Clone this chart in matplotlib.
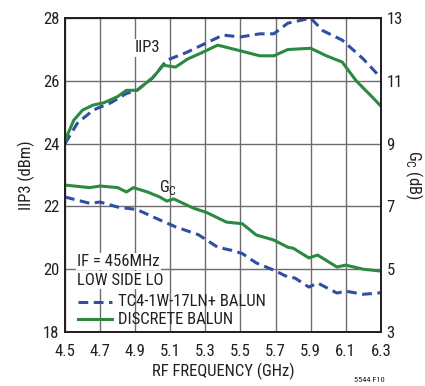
import matplotlib.pyplot as plt
import numpy as np

plt.rcParams['font.family'] = ['Roboto Condensed', 'DejaVu Sans']

# IIP3 (dBm), left axis
iip3_tc4_f = [4.50, 4.57, 4.66, 4.76, 4.85, 4.91, 5.00, 5.08, 5.19, 5.28, 5.40, 5.50, 5.61, 5.69, 5.77, 5.90, 5.97, 6.08, 6.20, 6.30]
iip3_tc4 = [24.0, 24.65, 25.07, 25.3, 25.6, 25.7, 26.1, 26.66, 26.9, 27.14, 27.46, 27.4, 27.5, 27.5, 27.84, 28.0, 27.6, 27.3, 26.7, 26.1]

iip3_disc_f = [4.50, 4.55, 4.60, 4.66, 4.72, 4.80, 4.85, 4.91, 5.00, 5.06, 5.13, 5.20, 5.28, 5.37, 5.47, 5.54, 5.61, 5.65, 5.69, 5.77, 5.90, 5.99, 6.08, 6.16, 6.24, 6.30]
iip3_disc = [24.1, 24.75, 25.07, 25.23, 25.3, 25.5, 25.7, 25.7, 26.1, 26.5, 26.44, 26.7, 26.9, 27.14, 27.0, 26.9, 26.8, 26.8, 26.8, 27.0, 27.04, 26.8, 26.6, 26.0, 25.55, 25.2]

# Conversion gain Gc (dB), right axis
gc_tc4_f = [4.50, 4.64, 4.70, 4.80, 4.91, 5.04, 5.13, 5.26, 5.37, 5.45, 5.51, 5.59, 5.69, 5.77, 5.81, 5.89, 5.94, 6.05, 6.10, 6.20, 6.30]
gc_tc4 = [7.3, 7.1, 7.14, 6.98, 6.9, 6.57, 6.35, 6.1, 5.7, 5.6, 5.5, 5.2, 4.97, 4.75, 4.72, 4.43, 4.56, 4.24, 4.3, 4.2, 4.25]

gc_disc_f = [4.50, 4.64, 4.70, 4.80, 4.85, 4.89, 4.97, 5.04, 5.08, 5.12, 5.23, 5.31, 5.42, 5.51, 5.59, 5.69, 5.77, 5.80, 5.89, 5.94, 6.05, 6.10, 6.20, 6.30]
gc_disc = [7.68, 7.6, 7.65, 7.6, 7.46, 7.6, 7.46, 7.3, 7.17, 7.24, 6.95, 6.8, 6.5, 6.45, 6.09, 5.93, 5.7, 5.67, 5.36, 5.45, 5.07, 5.13, 5.0, 4.94]

x_ticks = [4.5, 4.7, 4.9, 5.1, 5.3, 5.5, 5.7, 5.9, 6.1, 6.3]

blue = '#2f4fa3'
green = '#2a8a42'
txt = '#231f20'
fs = 12
dash = (0, (3.2, 1.8))

fig = plt.figure(figsize=(4.25, 3.86), dpi=100)
ax = fig.add_axes([0.153, 0.140, 0.743, 0.813])
ax2 = ax.twinx()

ax.plot(iip3_tc4_f, iip3_tc4, color=blue, lw=2.2, ls=dash)
ax.plot(iip3_disc_f, iip3_disc, color=green, lw=2.2)
ax2.plot(gc_tc4_f, gc_tc4, color=blue, lw=2.2, ls=dash)
ax2.plot(gc_disc_f, gc_disc, color=green, lw=2.2)

ax.set_xlim(4.5, 6.3)
ax.set_ylim(18, 28)
ax2.set_ylim(3, 13)
ax.set_xticks(x_ticks)
ax.set_xticklabels([f'{v:.1f}' for v in x_ticks])
ax.set_yticks(np.arange(18, 29, 2))
ax2.set_yticks(np.arange(3, 14, 2))

ax.grid(True, color='#6d6d6d', lw=1.0)
ax.set_axisbelow(True)
for a in (ax, ax2):
    a.tick_params(direction='in', length=0, labelsize=fs, labelcolor=txt, pad=4)
    for s in a.spines.values():
        s.set_color(txt)
        s.set_linewidth(1.3)
ax.tick_params(axis='x', pad=9)

ax.set_xlabel('RF FREQUENCY (GHz)', fontsize=fs, color=txt, labelpad=2)
ax.set_ylabel('IIP3 (dBm)', fontsize=fs, color=txt, labelpad=6)
ax2.set_ylabel('G$_\\mathregular{C}$ (dB)', fontsize=fs, color=txt, rotation=270, labelpad=16)

ax.text(4.97, 27.05, 'IIP3', fontsize=fs, color=txt, ha='center', va='center',
        bbox=dict(fc='white', ec='none', pad=1))
ax.text(5.09, 22.6, 'G$_\\mathregular{C}$', fontsize=fs, color=txt, ha='center', va='center')

ax.text(4.57, 20.25, 'IF = 456MHz', fontsize=fs, color=txt, va='center',
        bbox=dict(fc='white', ec='none', pad=1))
ax.text(4.57, 19.65, 'LOW SIDE LO', fontsize=fs, color=txt, va='center',
        bbox=dict(fc='white', ec='none', pad=1))
ax.plot([4.575, 4.77], [18.97, 18.97], color=blue, lw=2.2, ls=dash)
ax.text(4.80, 18.97, 'TC4-1W-17LN+ BALUN', fontsize=fs, color=txt, va='center')
ax.plot([4.575, 4.77], [18.4, 18.4], color=green, lw=2.2)
ax.text(4.80, 18.4, 'DISCRETE BALUN', fontsize=fs, color=txt, va='center')

fig.text(0.87, 0.01, '5544 F10', fontsize=6, color=txt, ha='center')

fig.savefig('out.png', dpi=100)
